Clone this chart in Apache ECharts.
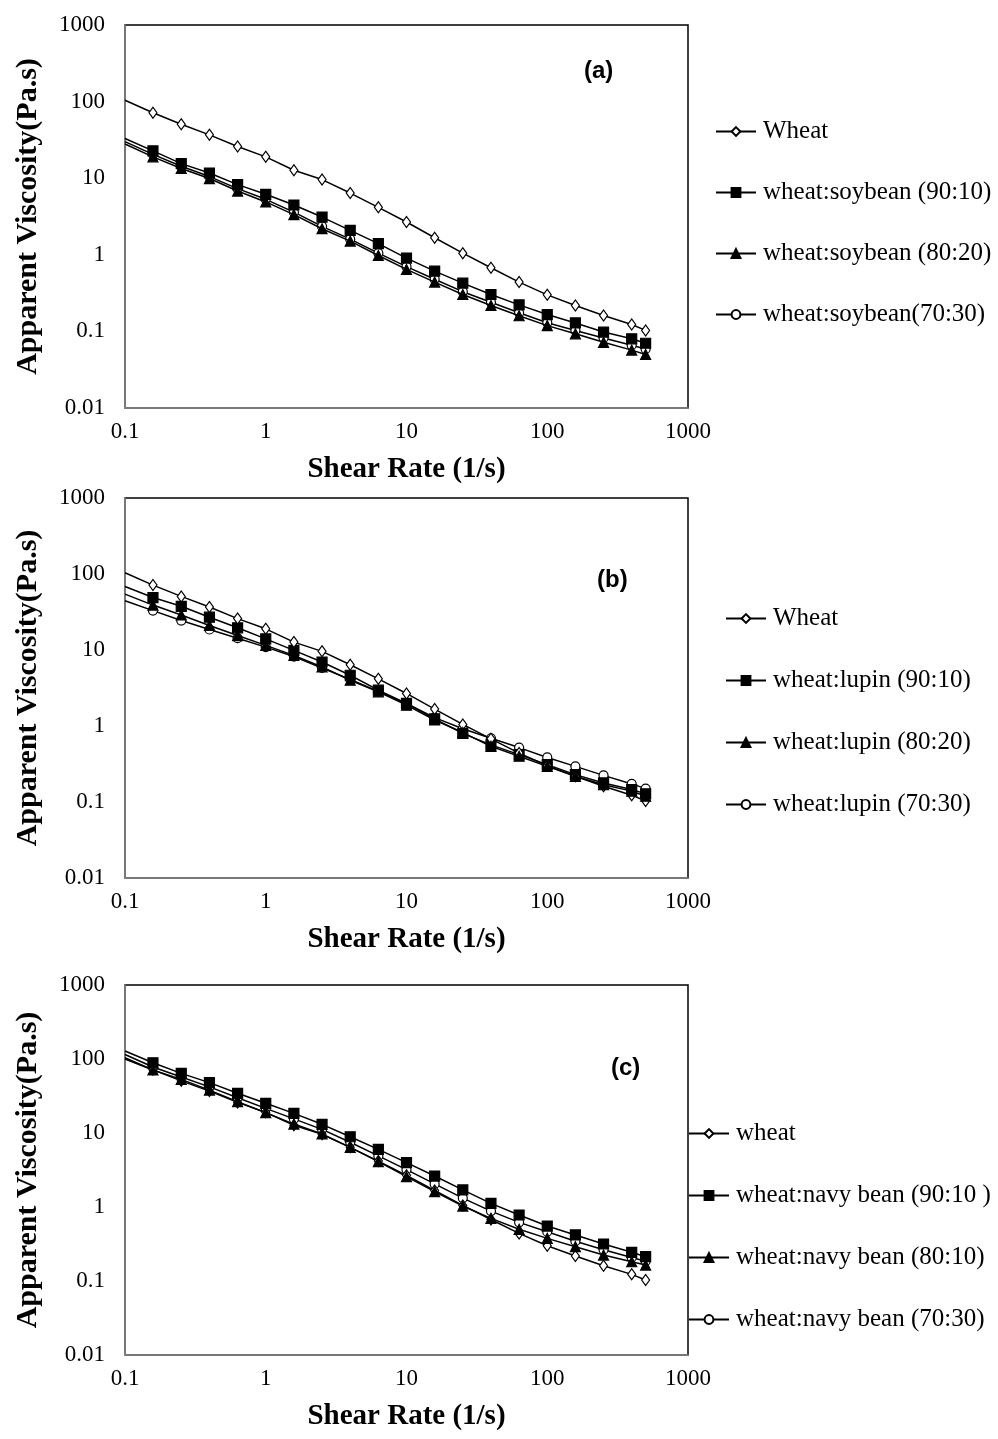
<!DOCTYPE html>
<html>
<head>
<meta charset="utf-8">
<script src="https://cdn.jsdelivr.net/npm/echarts@6/dist/echarts.min.js"></script>
<style>
html,body{margin:0;padding:0;background:#fff;}
#chart{width:998px;height:1439px;}
</style>
</head>
<body>
<div id="chart"></div>
<script>
// Shear rate (1/s) values
const shearRate = [0.1, 0.158, 0.251, 0.398, 0.631, 1, 1.585, 2.512, 3.981, 6.31, 10, 15.85, 25.12, 39.81, 63.1, 100, 158.5, 251.2, 398.1, 500];

// Apparent viscosity (Pa.s)
const wheat   = [104, 71.4, 50.7, 36.8, 25.9, 19.0, 12.7, 9.6, 6.4, 4.17, 2.68, 1.67, 1.05, 0.678, 0.44, 0.30, 0.218, 0.161, 0.123, 0.103];

const soy90   = [33, 22.7, 15.5, 11.7, 8.25, 6.16, 4.47, 3.11, 2.08, 1.40, 0.906, 0.612, 0.427, 0.303, 0.222, 0.166, 0.129, 0.098, 0.080, 0.070];
const soy80   = [28, 19.0, 13.4, 9.9, 6.8, 4.9, 3.34, 2.19, 1.51, 0.98, 0.644, 0.44, 0.303, 0.218, 0.160, 0.119, 0.093, 0.072, 0.057, 0.050];
const soy70   = [30, 20.5, 14.3, 10.5, 7.3, 5.3, 3.6, 2.35, 1.6, 1.05, 0.70, 0.48, 0.33, 0.24, 0.175, 0.13, 0.103, 0.082, 0.066, 0.059];

const lupin90 = [68.6, 49, 37.6, 27, 19.6, 14.0, 9.9, 6.95, 4.65, 2.96, 1.98, 1.24, 0.80, 0.565, 0.42, 0.31, 0.229, 0.178, 0.146, 0.128];
const lupin80 = [54.4, 39, 28.9, 21, 15.5, 11.5, 8.5, 6.0, 4.0, 2.82, 1.88, 1.2, 0.82, 0.54, 0.40, 0.294, 0.218, 0.169, 0.139, 0.119];
const lupin70 = [44.5, 33, 24.4, 18.6, 14.3, 10.9, 8.2, 5.8, 4.1, 2.85, 1.98, 1.29, 0.92, 0.69, 0.52, 0.386, 0.294, 0.224, 0.173, 0.150];

const navy90  = [128, 89, 64, 47.9, 34.4, 25.2, 18.4, 13.1, 8.9, 6.0, 3.97, 2.62, 1.70, 1.12, 0.78, 0.553, 0.419, 0.316, 0.244, 0.213];
const navy80  = [100, 71, 53, 38, 26.5, 18.8, 13.2, 9.7, 6.4, 4.1, 2.57, 1.61, 1.03, 0.703, 0.50, 0.377, 0.291, 0.224, 0.182, 0.164];
const navy70  = [115, 78, 57, 42, 30, 21.5, 15.5, 11.2, 7.5, 4.9, 3.2, 2.05, 1.32, 0.88, 0.62, 0.464, 0.345, 0.265, 0.208, 0.185];

const xTickLabels = ['0.1', '1', '10', '100', '1000'];
const yTickLabels = ['0.01', '0.1', '1', '10', '100', '1000'];

const panelLabels = ['(a)', '(b)', '(c)'];
const namesA = ['Wheat', 'wheat:soybean (90:10)', 'wheat:soybean (80:20)', 'wheat:soybean(70:30)'];
const namesB = ['Wheat ', 'wheat:lupin (90:10)', 'wheat:lupin (80:20)', 'wheat:lupin (70:30)'];
const namesC = ['wheat', 'wheat:navy bean (90:10 )', 'wheat:navy bean (80:10)', 'wheat:navy bean (70:30)'];

const panels = [
  {names: namesA, data: [wheat, soy90, soy80, soy70]},
  {names: namesB, data: [wheat, lupin90, lupin80, lupin70]},
  {names: namesC, data: [wheat, navy90, navy80, navy70]}
];

const gridTops = [25, 498, 985];
const gridHeights = [383, 380, 370];
const legendLefts = [715, 725, 688];
const legendTops = [119, 606, 1121];
const legendGaps = [36, 37, 37];
const labelPos = [[584, 59], [597, 568], [611, 1056]];

const serif = 'Liberation Serif, Times New Roman, serif';

const markerStyles = [
  {symbol: 'diamond', symbolSize: [8, 11], fill: '#fff'},
  {symbol: 'rect', symbolSize: 10, fill: '#000'},
  {symbol: 'triangle', symbolSize: 10, fill: '#000'},
  {symbol: 'circle', symbolSize: 9, fill: '#fff'}
];
const zOrder = [4, 3, 4, 2];

const grid = [], xAxis = [], yAxis = [], series = [], legend = [], title = [];

panels.forEach((p, pi) => {
  grid.push({
    left: 125, width: 563, top: gridTops[pi], height: gridHeights[pi],
    show: true, borderColor: '#000', borderWidth: 1.5, backgroundColor: '#fff'
  });
  xAxis.push({
    type: 'log', logBase: 10, gridIndex: pi, min: 0.1, max: 1000,
    name: 'Shear Rate (1/s)', nameLocation: 'middle', nameGap: 47,
    nameTextStyle: {fontFamily: serif, fontWeight: 'bold', fontSize: 29, color: '#000'},
    axisLine: {show: true, lineStyle: {color: '#8c8c8c', width: 1.5}},
    axisTick: {show: false},
    splitLine: {show: false},
    axisLabel: {
      margin: 12, fontFamily: serif, fontSize: 23, color: '#000',
      formatter: v => xTickLabels[Math.round(Math.log10(v)) + 1]
    }
  });
  yAxis.push({
    type: 'log', logBase: 10, gridIndex: pi, min: 0.01, max: 1000,
    name: 'Apparent Viscosity(Pa.s)', nameLocation: 'middle', nameGap: 82,
    nameTextStyle: {fontFamily: serif, fontWeight: 'bold', fontSize: 30, color: '#000'},
    axisLine: {show: true, lineStyle: {color: '#8c8c8c', width: 1.5}},
    axisTick: {show: false},
    splitLine: {show: false},
    axisLabel: {
      margin: 20, fontFamily: serif, fontSize: 23, color: '#000',
      formatter: v => yTickLabels[Math.round(Math.log10(v)) + 2]
    }
  });
  p.names.forEach((nm, si) => {
    const m = markerStyles[si];
    series.push({
      type: 'line', name: nm, xAxisIndex: pi, yAxisIndex: pi,
      z: zOrder[si],
      symbol: m.symbol, symbolSize: m.symbolSize, showAllSymbol: true,
      lineStyle: {color: '#000', width: 1.5},
      itemStyle: {color: m.fill, borderColor: '#000', borderWidth: 1.2},
      emphasis: {disabled: true},
      animation: false,
      data: shearRate.map((x, i) => i === 0 ? {value: [x, p.data[si][i]], symbol: 'none'} : [x, p.data[si][i]])
    });
  });
  legend.push({
    data: p.names, orient: 'vertical', left: legendLefts[pi], top: legendTops[pi],
    padding: 0,
    itemWidth: 40, itemHeight: 11, itemGap: legendGaps[pi],
    textStyle: {fontFamily: serif, fontSize: 25, color: '#000', padding: [0, 0, 0, 2]},
    selectedMode: false
  });
  title.push({
    text: panelLabels[pi], left: labelPos[pi][0], top: labelPos[pi][1],
    padding: 0,
    textStyle: {fontFamily: 'Liberation Sans, Arial, sans-serif', fontWeight: 'bold', fontSize: 24, color: '#000'}
  });
});

const chart = echarts.init(document.getElementById('chart'), null, {renderer: 'canvas'});
chart.setOption({
  backgroundColor: '#fff',
  animation: false,
  title, grid, xAxis, yAxis, series, legend
});
</script>
</body>
</html>
